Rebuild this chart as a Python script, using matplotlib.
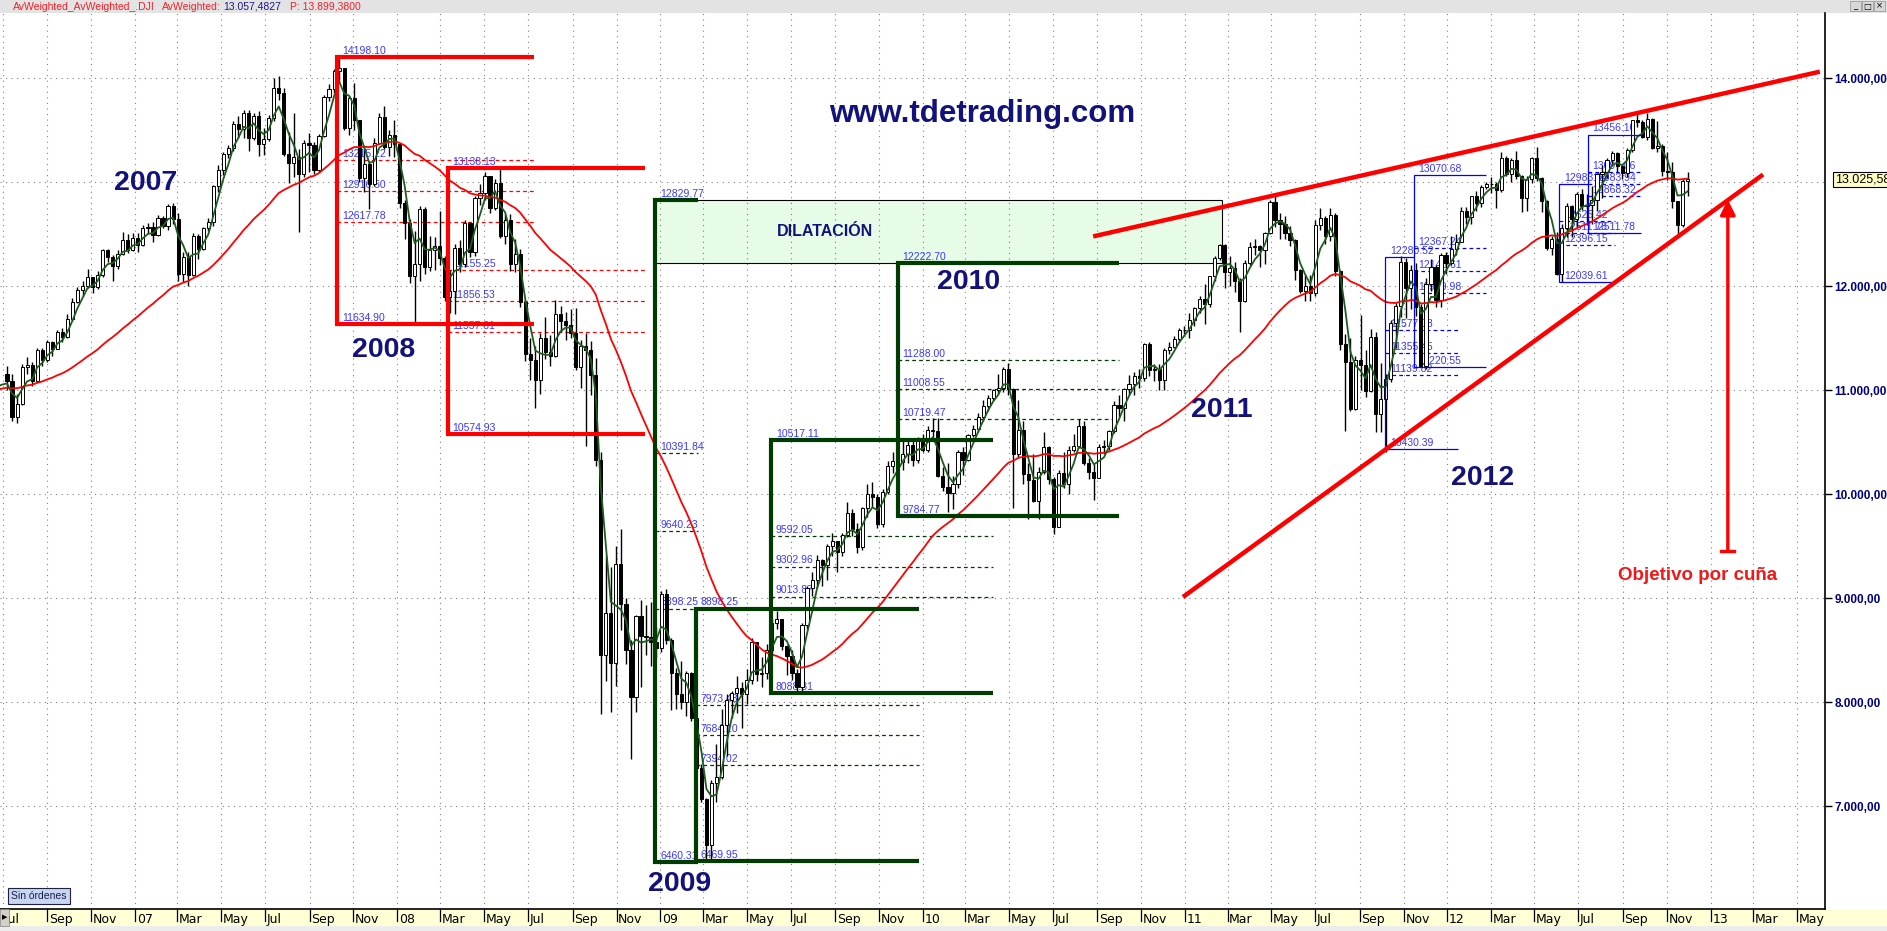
import numpy as np
import pandas as pd
import matplotlib
matplotlib.use("Agg")
import matplotlib.pyplot as plt
import matplotlib.dates as mdates
from matplotlib.patches import Rectangle

plt.rcParams['font.family'] = ['Liberation Sans', 'DejaVu Sans']

# weekly closes (Friday), Jul 2005 - Jun 2006: only feed the averages
close_warmup = [10303, 10449, 10641, 10651, 10641, 10559, 10600, 10559, 10397, 10447, 10679, 10641,
                10420, 10569, 10292, 10287, 10215, 10402, 10531, 10686, 10766, 10931, 10877, 10778,
                10876, 10883, 10718,
                10959, 10960, 10667, 10908, 10793, 10919, 11115, 11061, 11022, 11076, 11279, 11280,
                11109, 11120, 11138, 11347, 11367, 11577, 11380, 11144, 11278, 11247, 10891, 11015,
                10989, 11150]

close_2006 = [11091, 10739, 10868, 11219, 11240, 11088, 11381, 11284, 11464, 11393, 11560, 11508, 11679,
              11850, 11960, 12002, 12090, 11986, 12108, 12342, 12280, 12194, 12307, 12445, 12344, 12463]
high_2006 = [11230, 11150, 10960, 11250, 11320, 11270, 11400, 11400, 11480, 11470, 11580, 11600, 11730,
             11880, 11990, 12050, 12165, 12090, 12140, 12360, 12360, 12300, 12350, 12520, 12500, 12510]
low_2006 = [11000, 10700, 10680, 10860, 11150, 11040, 11080, 11230, 11270, 11330, 11390, 11460, 11500,
            11660, 11840, 11900, 11980, 11930, 11970, 12090, 12230, 12050, 12160, 12300, 12320, 12340]

close_2007 = [12398, 12556, 12566, 12487, 12653, 12581, 12768, 12647, 12114, 12277, 12110, 12481, 12354,
              12561, 12612, 12961, 13120, 13265, 13327, 13556, 13507, 13668, 13424, 13639, 13361, 13409,
              13611, 13907, 13851, 13265, 13182, 13240, 13079, 13379, 13358, 13114, 13443, 13821, 13896,
              14066, 14093, 13522, 13807, 13596, 13043, 13177, 12981, 13372, 13626, 13339, 13451, 13366]
high_2007 = [12510, 12590, 12610, 12620, 12680, 12670, 12790, 12800, 12700, 12330, 12330, 12510, 12500,
             12570, 12650, 12970, 13160, 13290, 13360, 13590, 13630, 13690, 13690, 13660, 13680, 13520,
             13640, 14000, 14020, 13900, 13480, 13660, 13320, 13400, 13470, 13380, 13460, 13840, 13940,
             14090, 14198, 14100, 13830, 13950, 13600, 13350, 13200, 13420, 13660, 13730, 13500, 13600]
low_2007 = [12330, 12380, 12510, 12420, 12480, 12560, 12540, 12600, 12050, 12040, 12000, 12100, 12260,
            12350, 12530, 12580, 12900, 13070, 13230, 13300, 13420, 13420, 13300, 13400, 13250, 13260,
            13390, 13590, 13790, 13250, 12990, 13050, 12520, 13050, 13100, 13080, 13100, 13430, 13780,
            13860, 13960, 13500, 13450, 13500, 13000, 12900, 12740, 12960, 13370, 13320, 13250, 13240]

close_2008 = [12800, 12606, 12099, 12207, 12743, 12182, 12348, 12381, 12266, 11894, 11951, 12361, 12216,
              12610, 12325, 12849, 12892, 13058, 12746, 12986, 12480, 12638, 12210, 12308, 11843, 11347,
              11289, 11100, 11496, 11370, 11326, 11734, 11659, 11628, 11544, 11220, 11421, 11388, 11143,
              10325, 8451, 8852, 8378, 9325, 8943, 8497, 8046, 8829, 8636, 8630, 8579, 8515]
high_2008 = [13370, 12830, 12640, 12530, 12770, 12760, 12480, 12470, 12720, 12290, 12150, 12400, 12440,
             12630, 12620, 12870, 12980, 13100, 13060, 13030, 13136, 12690, 12690, 12450, 12360, 11860,
             11500, 11420, 11550, 11700, 11530, 11870, 11810, 11750, 11780, 11790, 11480, 11550, 11470,
             11310, 10400, 9400, 9300, 9500, 9660, 9000, 8600, 8840, 8980, 8930, 8960, 8720]
low_2008 = [12750, 12450, 12030, 11634, 12050, 12120, 12140, 12150, 12200, 11860, 11740, 11730, 12130,
            12180, 12280, 12290, 12780, 12830, 12700, 12730, 12460, 12400, 12140, 12130, 11800, 11280,
            11100, 10827, 10960, 11300, 11230, 11320, 11560, 11480, 11500, 11190, 11020, 10460, 10950,
            10270, 7882, 8200, 7900, 8150, 8690, 8370, 7449, 7900, 8140, 8450, 8350, 8420]

close_2009 = [9034, 8599, 8281, 8077, 8001, 8280, 7850, 7366, 7063, 6627, 7224, 7279, 7776, 8018, 8083,
              8131, 8076, 8212, 8575, 8268, 8277, 8500, 8764, 8799, 8539, 8438, 8280, 8146, 8743, 9093,
              9172, 9370, 9321, 9505, 9544, 9441, 9605, 9820, 9665, 9488, 9865, 9996, 9972, 9713, 10023,
              10270, 10319, 10310, 10389, 10471, 10329, 10520, 10428]
high_2009 = [9070, 9090, 8620, 8330, 8390, 8300, 8290, 7890, 7400, 7080, 7250, 7600, 7930, 8080, 8110,
             8250, 8190, 8320, 8620, 8580, 8430, 8560, 8800, 8880, 8800, 8550, 8500, 8320, 8760, 9120,
             9250, 9410, 9380, 9520, 9630, 9550, 9630, 9920, 9860, 9720, 9880, 10100, 10120, 10000, 10050,
             10320, 10400, 10410, 10520, 10530, 10520, 10550, 10580]
low_2009 = [8480, 8560, 7920, 7930, 7930, 7870, 7820, 7300, 7040, 6469, 6490, 7040, 7260, 7480, 7850,
            7890, 7750, 7980, 8170, 8200, 8140, 8220, 8470, 8700, 8500, 8260, 8210, 8087, 8110, 8700,
            9020, 9100, 9120, 9170, 9400, 9250, 9400, 9590, 9600, 9430, 9460, 9780, 9880, 9670, 9680,
            10000, 10200, 10120, 10230, 10300, 10270, 10300, 10400]

close_2010 = [10618, 10610, 10173, 10067, 10012, 10099, 10402, 10325, 10567, 10625, 10742, 10851, 10927,
              10997, 11019, 11204, 11009, 10380, 10620, 10193, 10137, 9931, 10212, 10450, 10144, 9686,
              10198, 10097, 10425, 10466, 10653, 10303, 10213, 10150, 10448, 10462, 10607, 10860, 10829,
              11006, 11062, 11133, 11118, 11445, 11193, 11204, 11092, 11382, 11410, 11492, 11573, 11578]
high_2010 = [10650, 10730, 10730, 10260, 10300, 10170, 10420, 10450, 10580, 10660, 10780, 10900, 10950,
             11010, 11150, 11220, 11258, 11020, 10900, 10700, 10300, 10380, 10260, 10600, 10460, 10160,
             10230, 10400, 10460, 10580, 10720, 10700, 10350, 10290, 10480, 10520, 10620, 10890, 10950,
             11020, 11140, 11170, 11200, 11450, 11460, 11250, 11250, 11400, 11460, 11520, 11600, 11620]
low_2010 = [10400, 10530, 10160, 10030, 9830, 9860, 10060, 10180, 10320, 10550, 10600, 10700, 10800,
            10900, 10960, 10980, 10950, 9870, 10350, 10100, 9760, 9920, 9760, 10190, 10100, 9614,
            9680, 10060, 10000, 10400, 10440, 10280, 10140, 9940, 10150, 10380, 10420, 10590, 10740,
            10700, 10950, 10950, 11020, 11090, 11130, 11090, 11000, 11000, 11350, 11400, 11460, 11540]

close_2011 = [11675, 11787, 11872, 11824, 12092, 12273, 12391, 12130, 12170, 12044, 11859, 12221, 12377,
              12380, 12342, 12506, 12811, 12638, 12596, 12512, 12442, 12151, 11952, 12004, 11934, 12582,
              12657, 12480, 12681, 12143, 11445, 11269, 10818, 11285, 11240, 10992, 11509, 10771, 10913,
              11103, 11645, 11809, 12231, 11983, 12153, 11796, 11231, 12019, 12184, 11867, 12294, 12218]
high_2011 = [11740, 11800, 11900, 12020, 12100, 12290, 12400, 12400, 12290, 12230, 12080, 12250, 12420,
             12450, 12390, 12520, 12830, 12876, 12700, 12670, 12580, 12450, 12160, 12110, 12110, 12630,
             12750, 12670, 12750, 12700, 12150, 11540, 11500, 11330, 11720, 11380, 11590, 11560, 11260,
             11150, 11670, 11840, 12284, 12270, 12200, 12220, 11830, 12080, 12260, 12200, 12320, 12330]
low_2011 = [11500, 11620, 11740, 11630, 11800, 12050, 12250, 11980, 12000, 11940, 11555, 11850, 12200,
            12300, 12180, 12210, 12500, 12570, 12450, 12450, 12380, 12060, 11930, 11860, 11860, 11900,
            12540, 12400, 12430, 12100, 11380, 10604, 10800, 10810, 11000, 10930, 10980, 10600, 10600,
            10404, 11080, 11400, 11700, 11690, 11780, 11710, 11230, 11200, 11950, 11800, 11800, 12120]

close_2012 = [12360, 12422, 12720, 12660, 12862, 12801, 12950, 12983, 12978, 12922, 13233, 13081, 13212,
              13060, 12850, 13029, 13229, 13038, 12821, 12369, 12455, 12119, 12554, 12767, 12640, 12880,
              12772, 12777, 12823, 13075, 13096, 13207, 13275, 13158, 13091, 13307, 13593, 13579, 13437,
              13610, 13328, 13344, 13107, 13093, 12815, 12588, 13010, 13026]
high_2012 = [12480, 12500, 12760, 12760, 12870, 12910, 12970, 13000, 13050, 13000, 13290, 13250, 13230,
             13300, 13070, 13060, 13240, 13338, 13050, 12830, 12480, 12520, 12600, 12800, 12780, 12900,
             12930, 12880, 12960, 13090, 13160, 13230, 13300, 13290, 13170, 13330, 13600, 13653, 13600,
             13661, 13620, 13590, 13370, 13290, 13190, 12820, 13030, 13100]
low_2012 = [12200, 12300, 12420, 12600, 12600, 12720, 12760, 12930, 12890, 12750, 12900, 13060, 13000,
            13030, 12710, 12720, 12990, 13010, 12710, 12350, 12300, 12110, 12035, 12470, 12470, 12570,
            12730, 12590, 12600, 12720, 12850, 13040, 13150, 13100, 13030, 13050, 13290, 13530, 13420,
            13400, 13320, 13290, 13060, 13020, 12750, 12470, 12570, 12870]

last_price = 13025.58

# drawn studies: (start, top end, bottom end, top, bottom, fib levels)
red_boxes = [("2007-10-09", "2008-07-09", "2008-07-09", 14198.10, 11634.90, [13215.22, 12916.50, 12617.78]),
             ("2008-03-11", "2008-12-10", "2008-12-10", 13138.13, 10574.93, [12155.25, 11856.53, 11557.81])]
green_boxes = [("2008-12-25", "2009-02-22", "2009-02-22", 12829.77, 6460.31, [10391.84, 9640.23, 8898.25]),
               ("2009-02-19", "2009-12-27", "2009-12-27", 8898.25, 6469.95, [7973.43, 7684.10, 7394.02]),
               ("2009-06-04", "2010-04-08", "2010-04-08", 10517.11, 8088.81, [9592.05, 9302.96, 9013.87]),
               ("2009-11-27", "2010-10-01", "2010-10-01", 12222.70, 9784.77, [11288.00, 11008.55, 10719.47])]
blue_boxes = [("2011-10-06", "2011-11-15", "2012-01-15", 12280.52, 10430.39, [11577.08, 11355.45, 11139.82]),
              ("2011-11-15", "2012-02-24", "2012-02-24", 13070.68, 11220.55, [12367.24, 12145.61, 11929.98]),
              ("2012-06-04", "2012-07-14", "2012-08-21", 12983.94, 12039.61, [12625.42, 12511.78, 12396.15]),
              ("2012-07-14", "2012-09-26", "2012-09-26", 13456.10, 12511.78, [13097.06, 12983.94, 12868.32])]
dilatacion = ("2008-12-25", "2011-02-21", 12222.70, 12829.77)
wedge_upper = (["2010-08-26", "2013-06-02"], [12477, 14061])
wedge_lower = (["2010-12-29", "2013-03-15"], [9010, 13072])
target_arrow = ("2013-01-25", 9450, 12830)
year_labels = [("2007", "2007-01-16", 12990), ("2008", "2007-12-13", 11385), ("2009", "2009-01-28", 6250),
               ("2010", "2010-03-06", 12038), ("2011", "2011-02-21", 10808), ("2012", "2012-02-19", 10154)]

closes = close_2006 + close_2007 + close_2008 + close_2009 + close_2010 + close_2011 + close_2012
highs = high_2006 + high_2007 + high_2008 + high_2009 + high_2010 + high_2011 + high_2012
lows = low_2006 + low_2007 + low_2008 + low_2009 + low_2010 + low_2011 + low_2012

all_close = np.array(close_warmup + closes, float)
all_dates = pd.date_range(end="2012-11-30", periods=len(all_close), freq="W-FRI")
nw = len(close_warmup)
c = all_close[nw:]
o = all_close[nw - 1:-1]
h = np.maximum(np.array(highs, float), np.maximum(o, c))
l = np.minimum(np.array(lows, float), np.minimum(o, c))


def wma(v, n):
    w = np.arange(1, n + 1, dtype=float)
    out = np.full(len(v), np.nan)
    for i in range(n - 1, len(v)):
        out[i] = np.dot(v[i - n + 1:i + 1], w) / w.sum()
    return out


ma_fast = wma(all_close, 5)
ma_slow = wma(all_close, 50)


def D(s):
    return mdates.date2num(pd.Timestamp(s))


W, H = 1887, 931
fig = plt.figure(figsize=(W / 100, H / 100), dpi=100)
ax = fig.add_axes([0, 22 / H, 1825 / W, 896 / H])

t0 = D("2007-01-01")
ax.set_xlim(t0 - 187.8, t0 + 2351.2)
ax.set_ylim(6010, 14625)

# grid
navy = "#12127A"
lab_blue = "#3838FF"
grid_kw = dict(color="#808080", lw=0.8, ls=(0, (1, 4)), zorder=1)
for y in range(7000, 15000, 1000):
    ax.axhline(y, **grid_kw)
ticks = pd.date_range("2006-07-01", "2013-05-01", freq="2MS")
for t in ticks:
    ax.axvline(D(t), **grid_kw)

# candles
x = mdates.date2num(all_dates[nw:])
up = c >= o
ax.vlines(x, l, h, color="black", lw=1.0, zorder=3)
ax.bar(x[up], (c - o)[up], bottom=o[up], width=4.4, facecolor="white", edgecolor="black", lw=0.7, zorder=3.5)
ax.bar(x[~up], (o - c)[~up], bottom=c[~up], width=4.4, facecolor="black", edgecolor="black", lw=0.7, zorder=3.5)

xa = mdates.date2num(all_dates)
ax.plot(xa, ma_slow, color="#FF0000", lw=1.3, zorder=4)
ax.plot(xa, ma_fast, color="#1E5C1E", lw=1.3, zorder=4.2)

# dilatation zone
d0, d1, dlo, dhi = dilatacion
ax.add_patch(Rectangle((D(d0), dlo), D(d1) - D(d0), dhi - dlo, fc="#E6FCE6", ec="black", lw=0.8, zorder=0.8))
ax.text((D(d0) + D("2010-04-10")) / 2, (dlo + dhi) / 2, "DILATACIÓN", fontsize=11.5, fontweight="bold",
        color=navy, ha="center", va="center", zorder=6)


def draw_box(box, color, lw, dash_color):
    x0, xt, xb, top, bot, fibs = box
    ax.plot([D(xt), D(x0), D(x0), D(xb)], [top, top, bot, bot], color=color, lw=lw, zorder=5,
            solid_joinstyle="miter", solid_capstyle="butt")
    for f in fibs:
        ax.plot([D(x0), D(xb)], [f, f], color=dash_color, lw=0.9, ls=(0, (3, 2.5)), zorder=2.6)
    for v in [top] + fibs + [bot]:
        ax.annotate(f"{v:.2f}", (D(x0), v), xytext=(3.5, 0.8), textcoords="offset points", fontsize=7.5,
                    color=lab_blue, ha="left", va="bottom", zorder=2.7)


for b in red_boxes:
    draw_box(b, "#FF0000", 3.0, "#FF0000")
for b in green_boxes:
    draw_box(b, "#003C00", 3.0, "#003C00")
for b in blue_boxes:
    draw_box(b, "#0000FF", 0.9, "#0000FF")

# wedge
for xs, ys in (wedge_upper, wedge_lower):
    ax.plot([D(s) for s in xs], ys, color="#FF0000", lw=3.2, zorder=5, solid_capstyle="butt")

ad, alo, ahi = target_arrow
ax.annotate("", xy=(D(ad), ahi), xytext=(D(ad), alo),
            arrowprops=dict(arrowstyle="-|>,head_length=0.9,head_width=0.45", color="#FF0000", lw=2.4,
                            shrinkA=0, shrinkB=0), zorder=5)
ax.plot([D(ad) - 9, D(ad) + 9], [alo, alo], color="#FF0000", lw=2.4, zorder=5)
ax.text(D("2012-12-14"), 9221, "Objetivo por cuña", fontsize=13.5, fontweight="bold", color="#F01818",
        ha="center", va="center", zorder=6)

for s, d, p in year_labels:
    ax.text(D(d), p, s, fontsize=20.5, fontweight="bold", color=navy, ha="center", va="center", zorder=6)
ax.text(D("2010-03-25"), 13651, "www.tdetrading.com", fontsize=22.5, fontweight="bold", color=navy,
        ha="center", va="center", zorder=6)

# right price axis
yt = [7000, 8000, 9000, 10000, 11000, 12000, 14000]


def fmt(v):
    return f"{v:,.2f}".replace(",", "X").replace(".", ",").replace("X", ".")


ax.yaxis.tick_right()
ax.set_yticks(yt)
ax.set_yticklabels([fmt(v) for v in yt])
ax.tick_params(axis="y", direction="out", length=5, width=1, pad=2, labelsize=8.5, labelcolor="#00007A")
for t in ax.get_yticklabels():
    t.set_fontweight("bold")
ax.set_xticks([])
for s in ("left", "top"):
    ax.spines[s].set_visible(False)
for s in ("right", "bottom"):
    ax.spines[s].set_linewidth(1.2)
    ax.spines[s].set_color("black")
ax.annotate(fmt(last_price), xy=(1, last_price), xycoords=("axes fraction", "data"), xytext=(7, 0),
            textcoords="offset points", va="center", ha="left", fontsize=9, color="black",
            bbox=dict(boxstyle="square,pad=0.12", fc="#FFFFC4", ec="black", lw=0.8), annotation_clip=False)

# date strip
fig.add_artist(Rectangle((0, 5 / H), 1, 17 / H, transform=fig.transFigure, fc="#FFFFD5", ec="none", zorder=-1))
fig.add_artist(Rectangle((0, 0), 1, 5 / H, transform=fig.transFigure, fc="#ECECEC", ec="none", zorder=-1))
for t in ticks:
    xx = D(t)
    ax.plot([xx, xx], [0, -12 / 896], transform=ax.get_xaxis_transform(), color="black", lw=0.9,
            clip_on=False, zorder=7)
    lbl = t.strftime("%y") if t.month == 1 else t.strftime("%b")
    ax.annotate(lbl, xy=(xx, 0), xycoords=("data", "axes fraction"), xytext=(1.2, -7.3),
                textcoords="offset points", fontsize=9, ha="left", va="center",
                family=["Liberation Sans Narrow", "DejaVu Sans"], annotation_clip=False)
fig.add_artist(Rectangle((0, 5 / H), 9 / W, 17 / H, transform=fig.transFigure, fc="#D4D0C8", ec="#808080",
                         lw=0.5, zorder=2))
fig.text(1.5 / W, 13.5 / H, "▶", fontsize=5, family="DejaVu Sans", va="center", ha="left", zorder=3)

fig.text(11 / W, 1 - 896 / H, "Sin órdenes", fontsize=7.5, color="#1a1a50", va="center", ha="left", zorder=10,
         bbox=dict(boxstyle="square,pad=0.3", fc="#C7D7EF", ec="#202040", lw=0.8))

# header
fig.add_artist(Rectangle((0, 1 - 13 / H), 1, 13 / H, transform=fig.transFigure, fc="#E3E3E3", ec="none",
                         zorder=-1))
hy = 1 - 6.5 / H
fig.text(12.5 / W, hy, "AvWeighted_AvWeighted_.DJI", fontsize=7.5, color="#F0202A", va="center")
fig.text(161.6 / W, hy, "AvWeighted:", fontsize=7.5, color="#F0202A", va="center")
fig.text(223 / W, hy, "13.057,4827", fontsize=7.5, color="#1a1a8a", va="center")
fig.text(290 / W, hy, "P: 13.899,3800", fontsize=7.5, color="#F0202A", va="center")
for i, g in enumerate(["_", "□", "×"]):
    bx = 1850 + 12 * i
    fig.add_artist(Rectangle((bx / W, 1 - 11 / H), 11 / W, 10 / H, transform=fig.transFigure, fc="#D8D8D8",
                             ec="#909090", lw=0.5, zorder=2))
    fig.text((bx + 5.5) / W, 1 - 6 / H, g, fontsize=6, family="DejaVu Sans", ha="center", va="center", zorder=3)

fig.savefig("out.png", dpi=100)
